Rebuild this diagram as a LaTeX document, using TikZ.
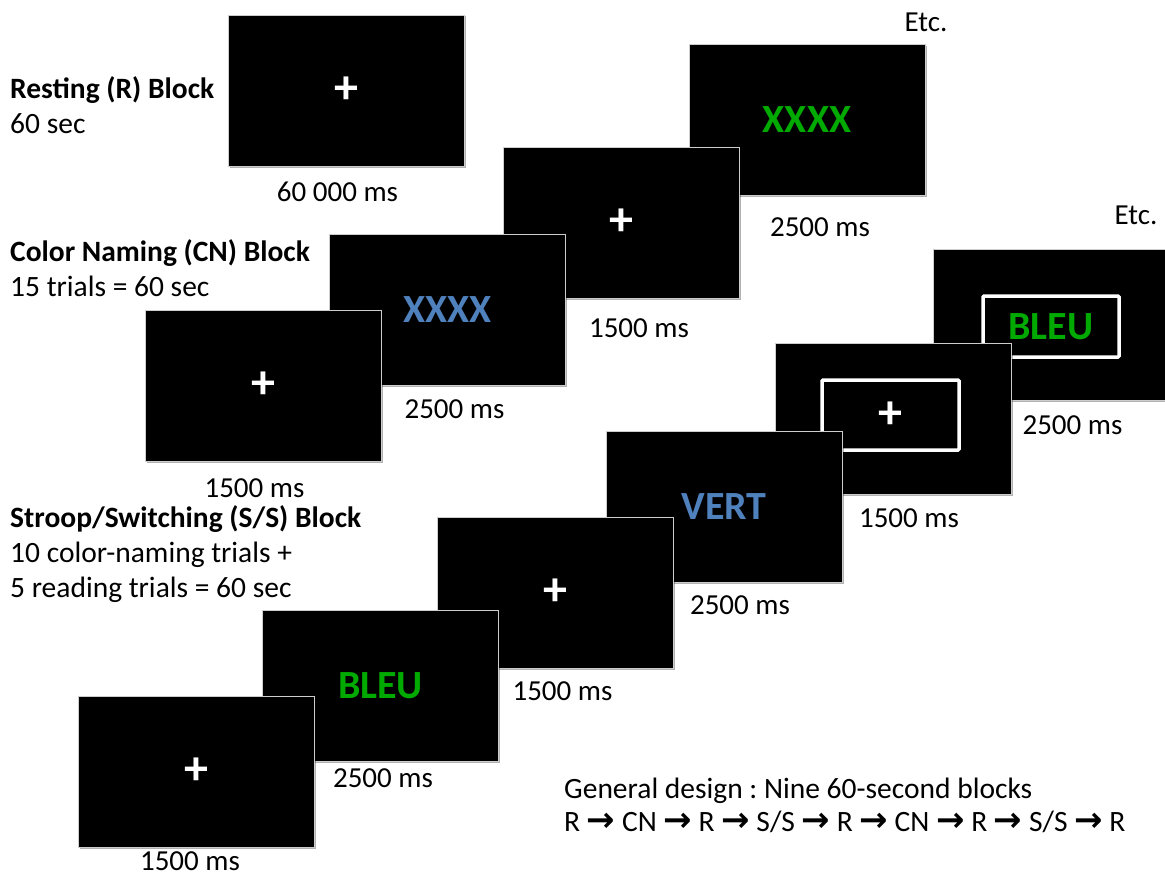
\documentclass[tikz,border=0pt]{standalone}
\usepackage{fontspec}
\setmainfont{Carlito}
\newfontfamily\arrowfont{DejaVu Sans}
\usetikzlibrary{positioning,shadows}
\definecolor{stimgreen}{RGB}{0,170,0}
\definecolor{stimblue}{RGB}{79,129,189}
\definecolor{rimgray}{RGB}{205,205,205}
\frenchspacing
\newcommand{\lblsize}{\fontsize{29}{35}\selectfont}
\newcommand{\blksize}{\fontsize{29.5}{35}\selectfont}
\newcommand{\stimsize}{\fontsize{40}{48}\selectfont\bfseries}
\newcommand{\nxt}{ {\arrowfont\bfseries\fontsize{34}{34}\selectfont →} }

\begin{document}
\begin{tikzpicture}[
  x=1pt,y=-1pt,
  screen/.style={draw=rimgray,line width=0.8pt,fill=black,minimum width=236pt,minimum height=151pt,
    inner sep=0pt,font=\stimsize,text=white,
    drop shadow={shadow xshift=1.5pt,shadow yshift=-1.5pt,opacity=0.3,fill=black}},
  fixation/.style={font=\fontsize{48}{48}\selectfont\bfseries,text=white},
  cue/.style={draw=white,line width=3.5pt,rounded corners=1pt,inner sep=0pt},
  dur/.style={font=\lblsize,inner sep=0pt,anchor=center},
  blocklbl/.style={font=\blksize,inner sep=0pt,align=left,anchor=base west},
]
\useasboundingbox (0,0) rectangle (1165,875);
% ---- resting block ----
\node[screen,fixation] (rest) at (346.5,90.5) {+};
\node[dur] (restdur) at (337.5,192) {60 000 ms};
\node[blocklbl] (restlbl) at (10,133) {\textbf{Resting (R) Block}\\60 sec};
% ---- colour naming block (back to front) ----
\node[screen,text=stimgreen] (cnfour) at (807,120) {XXXX};
\node[dur] (cnfourdur) at (820,227) {2500 ms};
\node[dur] (etcone) at (926,22) {Etc.};
\node[screen,fixation] (cnthree) at (621.5,222.5) {+};
\node[dur] (cnthreedur) at (639,328) {1500 ms};
\node[screen,text=stimblue] (cntwo) at (447.5,309.5) {XXXX};
\node[dur] (cntwodur) at (454.5,409) {2500 ms};
\node[screen,fixation] (cnone) at (263.5,385.5) {+};
\node[dur] (cnonedur) at (254.5,488) {1500 ms};
\node[blocklbl] (cnlbl) at (10,296) {\textbf{Color Naming (CN) Block}\\15 trials = 60 sec};
% ---- stroop / switching block (back to front) ----
\node[screen] (sssix) at (1051,325) {};
\node[cue,minimum width=136pt,minimum height=61pt,text=stimgreen,font=\stimsize] (cuesix) at (1051,326.5) {BLEU};
\node[dur] (sssixdur) at (1072.5,425) {2500 ms};
\node[dur] (etctwo) at (1136,215) {Etc.};
\node[screen] (ssfive) at (893.5,418.5) {};
\node[cue,fixation,minimum width=137pt,minimum height=70pt] (cuefive) at (890.5,415) {+};
\node[dur] (ssfivedur) at (909,518) {1500 ms};
\node[screen,text=stimblue] (ssfour) at (724,507) {VERT};
\node[dur] (ssfourdur) at (740,605) {2500 ms};
\node[screen,fixation] (ssthree) at (555,592.5) {+};
\node[dur] (ssthreedur) at (562.5,691) {1500 ms};
\node[screen,text=stimgreen] (sstwo) at (380.5,686) {BLEU};
\node[dur] (sstwodur) at (383,778) {2500 ms};
\node[screen,fixation] (ssone) at (196.5,771.5) {+};
\node[dur] (ssonedur) at (190,861) {1500 ms};
\node[blocklbl] (sslbl) at (10,597) {\textbf{Stroop/Switching (S/S) Block}\\10 color-naming trials +\\5 reading trials = 60 sec};
% ---- overall design ----
\node[blocklbl,font=\fontsize{29.5}{33}\selectfont] (design) at (564,831)
  {General design : Nine 60-second blocks\\R\nxt CN\nxt R\nxt S/S\nxt R\nxt CN\nxt R\nxt S/S\nxt R};
\end{tikzpicture}
\end{document}
